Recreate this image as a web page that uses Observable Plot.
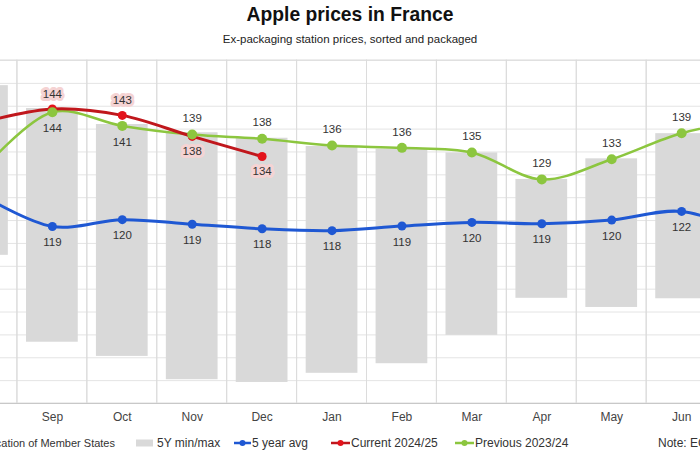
<!DOCTYPE html>
<html><head><meta charset="utf-8">
<script src="https://cdn.jsdelivr.net/npm/d3@7"></script>
<script src="https://cdn.jsdelivr.net/npm/@observablehq/plot@0.6"></script>
<style>
html,body{margin:0;padding:0;background:#fff;}
body{width:700px;height:450px;position:relative;overflow:hidden;font-family:"Liberation Sans",Arial,sans-serif;color:#222;}
#title{position:absolute;top:4px;left:0;width:700px;text-align:center;font-weight:bold;font-size:19.3px;color:#111;}
#subtitle{position:absolute;top:33px;left:0;width:700px;text-align:center;font-size:11.5px;color:#222;}
#chart{position:absolute;top:50px;left:-53px;width:839px;height:383px;}
#chart svg{max-width:none !important;width:839px;height:383px;}
.lg{position:absolute;top:436px;font-size:12px;color:#333;white-space:nowrap;line-height:14px;}
.sw{position:absolute;top:436px;}
</style>
</head><body>
<div id="title">Apple prices in France</div>
<div id="subtitle">Ex-packaging station prices, sorted and packaged</div>
<div id="chart"></div>
<script>
// ---- data (EUR/100kg) ----
const months = ["Aug","Sep","Oct","Nov","Dec","Jan","Feb","Mar","Apr","May","Jun","Jul"];
const minMonths = ["Aug","Sep","Oct","Nov","Dec","Jan","Feb","Mar","Apr","May","Jun"];
const min5y = [112.4, 93.4, 90.3, 85.2, 84.6, 86.6, 88.7, 94.9, 103, 101, 102.9];
const max5y = [149.5, 144.5, 141, 139.2, 138, 136.2, 135.6, 134.8, 129, 133.5, 139];
const avg5y = [125.5, 118.7, 120.2, 119.2, 118.2, 117.8, 118.8, 119.6, 119.3, 120.1, 122.0, 117];
const current = [141.5, 144.4, 143.0, 138.4, 134.0];          // 2024/25, Aug..Dec
const previous = [131, 143.7, 140.7, 138.8, 137.9, 136.4, 135.9, 134.9, 129.0, 133.4, 139.1, 142]; // 2023/24
const yTicks = d3.range(80, 156, 5);

// ---- build tables ----
const bars = minMonths.map((m, i) => ({month: m, min: min5y[i], max: max5y[i]}));
const avgData = months.map((m, i) => ({month: m, value: avg5y[i]}));
const curData = current.map((v, i) => ({month: months[i], value: v, above: v >= previous[i]}));
const prevData = months.map((m, i) => ({month: m, value: previous[i],
  above: !(current[i] !== undefined && current[i] > previous[i])}));

const W = 839;
const step = W / months.length;
const gap = step * 0.13;
const fmt = d => String(Math.round(d.value));

const chart = Plot.plot({
  width: W, height: 383,
  marginLeft: 0, marginRight: 0, marginTop: 10, marginBottom: 30,
  style: {fontFamily: "Liberation Sans, Arial, sans-serif", fontSize: "11.5px", color: "#333", background: "transparent", overflow: "visible"},
  x: {type: "band", domain: months, paddingInner: 0.26, paddingOuter: 0.13, round: false, label: null, tickSize: 0, tickPadding: 9},
  y: {domain: [yTicks[0], yTicks[yTicks.length - 1]], axis: null},
  marks: [
    Plot.ruleY(yTicks, {stroke: "#e4e4e4", strokeWidth: 1}),
    Plot.barY(months, {x: d => d, y1: yTicks[0], y2: yTicks[yTicks.length - 1], fill: "none", stroke: "#dcdcdc", insetLeft: -gap, insetRight: -gap}),
    Plot.ruleY([yTicks[0]], {stroke: "#c8c8c8"}),
    Plot.barY(bars, {x: "month", y1: "min", y2: "max", fill: "#d9d9d9"}),
    Plot.axisX({fontSize: 12, tickSize: 0, tickPadding: 9, fill: "#444", label: null}),
    // 5 year average
    Plot.line(avgData, {x: "month", y: "value", stroke: "#1f58d3", strokeWidth: 3, curve: "catmull-rom"}),
    Plot.dot(avgData, {x: "month", y: "value", fill: "#1f58d3", r: 4.5}),
    Plot.text(avgData, {x: "month", y: "value", text: fmt, dy: 16, fill: "#333", fontSize: 11.5}),
    // previous & current lines
    Plot.line(prevData, {x: "month", y: "value", stroke: "#8cc63f", strokeWidth: 2.5, curve: "catmull-rom"}),
    Plot.line(curData, {x: "month", y: "value", stroke: "#c0171c", strokeWidth: 3, curve: "catmull-rom"}),
    Plot.dot(curData, {x: "month", y: "value", fill: "#e3131b", r: 4.5}),
    Plot.dot(prevData, {x: "month", y: "value", fill: "#8cc63f", r: 5}),
    Plot.text(prevData.filter(d => d.above), {x: "month", y: "value", text: fmt, dy: -16, fill: "#333", fontSize: 11.5}),
    Plot.text(prevData.filter(d => !d.above), {x: "month", y: "value", text: fmt, dy: 16, fill: "#333", fontSize: 11.5}),
    Plot.text(curData.filter(d => d.above), {x: "month", y: "value", text: fmt, dy: -15, fill: "#333", fontSize: 11.5, stroke: "#f5d3d3", strokeWidth: 6, strokeLinejoin: "round"}),
    Plot.text(curData.filter(d => !d.above), {x: "month", y: "value", text: fmt, dy: 15, fill: "#333", fontSize: 11.5, stroke: "#f5d3d3", strokeWidth: 6, strokeLinejoin: "round"})
  ]
});
document.getElementById("chart").appendChild(chart);
</script>
<div class="lg" style="right:585px;font-size:11px;">notification of Member States</div>
<svg class="sw" style="left:136px" width="18" height="14"><rect x="0" y="3.5" width="17" height="7" fill="#d9d9d9"/></svg>
<div class="lg" style="left:157px;">5Y min/max</div>
<svg class="sw" style="left:234px" width="18" height="14"><line x1="0" x2="17" y1="7" y2="7" stroke="#1f58d3" stroke-width="2.5"/><circle cx="8.5" cy="7" r="3" fill="#1f58d3"/></svg>
<div class="lg" style="left:252px;">5 year avg</div>
<svg class="sw" style="left:331px" width="20" height="14"><line x1="0" x2="19" y1="7" y2="7" stroke="#c0171c" stroke-width="2.5"/><circle cx="9.5" cy="7" r="3" fill="#e3131b"/></svg>
<div class="lg" style="left:351px;">Current 2024/25</div>
<svg class="sw" style="left:455px" width="20" height="14"><line x1="0" x2="19" y1="7" y2="7" stroke="#8cc63f" stroke-width="2.5"/><circle cx="9.5" cy="7" r="3" fill="#8cc63f"/></svg>
<div class="lg" style="left:475px;">Previous 2023/24</div>
<div class="lg" style="left:658px;">Note: EC</div>
</body></html>
